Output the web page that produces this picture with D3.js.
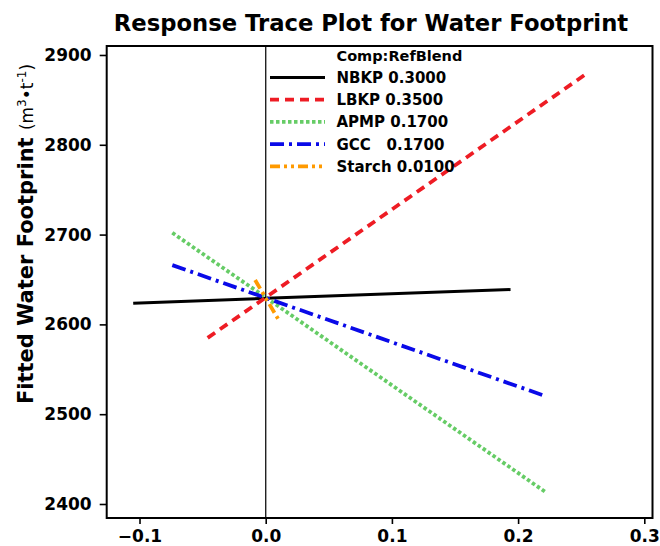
<!DOCTYPE html>
<html>
<head>
<meta charset="utf-8">
<script src="https://cdn.jsdelivr.net/npm/d3@7"></script>
<style>
  html, body { margin: 0; padding: 0; background: #fff; }
  svg { display: block; }
  text { font-family: "DejaVu Sans", "Liberation Sans", Arial, sans-serif; fill: #000; }
</style>
</head>
<body>
<svg id="chart" width="660" height="546"></svg>
<script>
// ---- data ----
const components = ["NBKP", "LBKP", "APMP", "GCC", "Starch"];
const refBlend = ["0.3000", "0.3500", "0.1700", "0.1700", "0.0100"];
const legendLabels = ["NBKP 0.3000", "LBKP 0.3500", "APMP 0.1700", "GCC   0.1700", "Starch 0.0100"];
// deviation from reference blend (x) and fitted response (y)
const nbkpX = [-0.105, 0.0, 0.194];
const nbkpY = [2623.5, 2629.0, 2638.8];
const lbkpX = [-0.046, 0.0, 0.253];
const lbkpY = [2585, 2630, 2878];
const apmpX = [-0.074, 0.0, 0.222];
const apmpY = [2702, 2630, 2413];
const gccX = [-0.074, 0.0, 0.222];
const gccY = [2666, 2629.5, 2520];
const starchX = [-0.0084, 0.0, 0.010];
const starchY = [2649.4, 2629.4, 2605.7];
const xTicks = [-0.1, 0.0, 0.1, 0.2, 0.3];
const yTicks = [2400, 2500, 2600, 2700, 2800, 2900];

const seriesX = [nbkpX, lbkpX, apmpX, gccX, starchX];
const seriesY = [nbkpY, lbkpY, apmpY, gccY, starchY];
const colors = ["#000000", "#ee1c24", "#66cc66", "#0a0ae8", "#ff9a00"];
const dashes = ["none", "9,6", "3.5,2.5", "14,5,3,5", "10,4,3,4,3,4"];
const widths = [3, 3.8, 3.8, 3.8, 3.8];

// ---- layout ----
const pLeft = 106.7, pRight = 652.5, pTop = 46, pBottom = 518;
const svg = d3.select("#chart");

const x = d3.scaleLinear().domain([-0.126, 0.3065]).range([pLeft, pRight]);
const y = d3.scaleLinear().domain([2384.4, 2910]).range([pBottom, pTop]);

// title
svg.append("text")
  .attr("x", 371).attr("y", 31)
  .attr("text-anchor", "middle")
  .style("font-size", "22.7px").style("font-weight", "bold")
  .text("Response Trace Plot for Water Footprint");

// axes
const yAxis = svg.append("g")
  .attr("transform", `translate(${pLeft},0)`)
  .call(d3.axisLeft(y).tickValues(yTicks).tickFormat(d3.format("d")).tickSize(7).tickPadding(8));
const xAxis = svg.append("g")
  .attr("transform", `translate(0,${pBottom})`)
  .call(d3.axisBottom(x).tickValues(xTicks).tickFormat(d3.format(".1f")).tickSize(6).tickPadding(6));
[yAxis, xAxis].forEach(g => {
  g.select(".domain").remove();
  g.selectAll(".tick line").attr("stroke", "#000").attr("stroke-width", 1.6);
  g.selectAll(".tick text")
    .style("font-family", "'DejaVu Sans', 'Liberation Sans', Arial, sans-serif")
    .style("font-size", "17px").style("font-weight", "bold")
    .attr("fill", "#000");
});

// reference line at x = 0
svg.append("line")
  .attr("x1", x(0)).attr("x2", x(0))
  .attr("y1", pTop).attr("y2", pBottom)
  .attr("stroke", "#222").attr("stroke-width", 1.4);

// series lines
const lineGen = d3.line().x(d => x(d[0])).y(d => y(d[1]));
components.forEach((c, i) => {
  const pts = seriesX[i].map((v, j) => [v, seriesY[i][j]]);
  svg.append("path")
    .datum(pts)
    .attr("d", lineGen)
    .attr("fill", "none")
    .attr("stroke", colors[i])
    .attr("stroke-width", widths[i])
    .attr("stroke-dasharray", dashes[i]);
});

// frame
svg.append("rect")
  .attr("x", pLeft).attr("y", pTop)
  .attr("width", pRight - pLeft).attr("height", pBottom - pTop)
  .attr("fill", "none").attr("stroke", "#000").attr("stroke-width", 2);

// legend
const lg = svg.append("g");
lg.append("text")
  .attr("x", 336.5).attr("y", 61)
  .style("font-size", "14.5px").style("font-weight", "bold")
  .text("Comp:RefBlend");
components.forEach((c, i) => {
  const yy = 77.5 + i * 22.2;
  lg.append("line")
    .attr("x1", 270).attr("x2", 325)
    .attr("y1", yy).attr("y2", yy)
    .attr("stroke", colors[i])
    .attr("stroke-width", widths[i])
    .attr("stroke-dasharray", dashes[i]);
  lg.append("text")
    .attr("x", 336.5).attr("y", yy + 5.5)
    .style("font-size", "15px").style("font-weight", "bold")
    .style("white-space", "pre")
    .text(legendLabels[i]);
});

// y axis label
const yl = svg.append("text")
  .attr("transform", "translate(33,234) rotate(-90)")
  .attr("text-anchor", "middle");
yl.append("tspan").style("font-size", "21px").style("font-weight", "bold")
  .text("Fitted Water Footprint ");
yl.append("tspan").style("font-size", "17px").text("(m");
yl.append("tspan").style("font-size", "12px").attr("dy", "-7").text("3");
yl.append("tspan").style("font-size", "17px").attr("dy", "7").text("•t");
yl.append("tspan").style("font-size", "12px").attr("dy", "-7").text("-1");
yl.append("tspan").style("font-size", "17px").attr("dy", "7").text(")");
</script>
</body>
</html>
